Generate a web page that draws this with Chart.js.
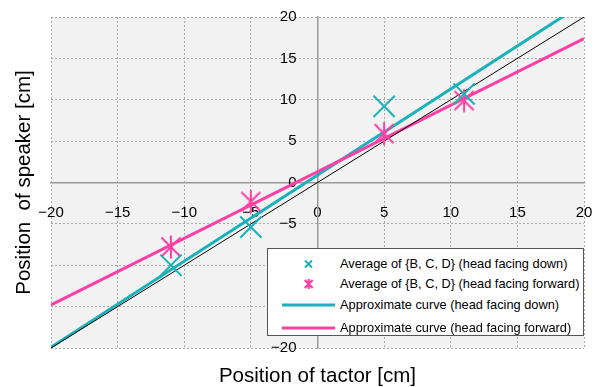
<!DOCTYPE html>
<html><head><meta charset="utf-8">
<script src="https://cdn.jsdelivr.net/npm/chart.js@4/dist/chart.umd.min.js"></script>
<style>
html,body{margin:0;padding:0;background:#fff;}
#wrap{position:relative;width:601px;height:387px;}
canvas{display:block}
#legend{position:absolute;left:267px;top:248px;width:315px;height:86px;background:#fff;border:1px solid #555;font-family:"Liberation Sans",Arial,sans-serif;font-size:12.8px;color:#000;}
.row{position:absolute;left:0;width:315px;height:20px;}
.row span{position:absolute;left:72px;top:0;line-height:20px;white-space:nowrap;}
.row svg{position:absolute;left:0;top:0;}
</style>
</head><body>
<div id="wrap"><canvas id="c" width="601" height="387"></canvas><div id="legend"></div></div>
<script>
// ---- data ----
const xValues = [-11, -5, 5, 11];
const downY = [-10, -5.4, 9.2, 10.7];
const forwardY = [-7.8, -2.3, 5.9, 9.9];
const curveX = [-20, 20];
const downCurveY = [-19.9, 21.7];
const forwardCurveY = [-14.8, 17.4];
const identityY = [-20, 20];
const tickValues = [-20, -15, -10, -5, 0, 5, 10, 15, 20];
const tickLabels = ['−20', '−15', '−10', '−5', '0', '5', '10', '15', '20'];
const seriesNames = [
  'Average of {B, C, D} (head facing down)',
  'Average of {B, C, D} (head facing forward)',
  'Approximate curve (head facing down)',
  'Approximate curve (head facing forward)'
];
const xTitle = 'Position of tactor [cm]';
const yTitle = 'Position  of speaker [cm]';

// ---- styles ----
const CYAN = '#19b1ba';
const PINK = '#ff3fa4';
const FAMILY = '"Liberation Sans", Arial, sans-serif';

function makeStar(color) {
  const c = document.createElement('canvas');
  c.width = 26; c.height = 26;
  const g = c.getContext('2d');
  g.strokeStyle = color; g.lineWidth = 2;
  g.beginPath();
  g.moveTo(13, 1.5); g.lineTo(13, 24.5);
  g.moveTo(3.5, 3.5); g.lineTo(22.5, 22.5);
  g.moveTo(22.5, 3.5); g.lineTo(3.5, 22.5);
  g.stroke();
  return c;
}

const pts = (xs, ys) => xs.map((x, i) => ({x, y: ys[i]}));
const labelFor = v => { const i = tickValues.indexOf(v); return i >= 0 ? tickLabels[i] : ''; };
const zeroPad = s => { s.paddingLeft = s.paddingRight = s.paddingTop = s.paddingBottom = 0; };

const bgPlugin = {
  id: 'plotBg',
  beforeDraw(chart) {
    const {ctx, chartArea: a} = chart;
    ctx.save(); ctx.fillStyle = '#f2f2f2';
    ctx.fillRect(a.left, a.top, a.right - a.left, a.bottom - a.top);
    ctx.restore();
  }
};

const gridCommon = {color: '#a8a8a8', lineWidth: 1, drawTicks: false};
const tickFont = {family: FAMILY, size: 15};
const titleFont = {family: FAMILY, size: 20.5, lineHeight: 1};

new Chart(document.getElementById('c'), {
  type: 'scatter',
  data: {
    datasets: [
      {label: seriesNames[0], data: pts(xValues, downY), pointStyle: 'crossRot', pointRadius: 15, pointHoverRadius: 15, borderColor: CYAN, backgroundColor: CYAN, pointBorderWidth: 2, borderWidth: 2, order: 0},
      {label: seriesNames[1], data: pts(xValues, forwardY), pointStyle: makeStar(PINK), pointRadius: 12, borderColor: PINK, backgroundColor: PINK, order: 0},
      {label: 'y = x', type: 'line', data: pts(curveX, identityY), borderColor: '#000', borderWidth: 1, pointRadius: 0, order: 1},
      {label: seriesNames[3], type: 'line', data: pts(curveX, forwardCurveY), borderColor: PINK, borderWidth: 3, pointRadius: 0, order: 2},
      {label: seriesNames[2], type: 'line', data: pts(curveX, downCurveY), borderColor: CYAN, borderWidth: 3, pointRadius: 0, order: 3}
    ]
  },
  options: {
    responsive: false,
    animation: false,
    events: [],
    layout: {padding: {top: 16, right: 15, left: 0, bottom: 0}},
    plugins: {legend: {display: false}, tooltip: {enabled: false}},
    scales: {
      x: {type: 'linear', position: 'bottom', min: -20, max: 20,
          ticks: {display: false, stepSize: 5}, grid: gridCommon,
          border: {display: false, dash: [2, 2]},
          title: {display: true, text: xTitle, color: '#000', font: titleFont, padding: {top: 0, bottom: 0}},
          afterFit(s) { s.height = 39; zeroPad(s); }},
      y: {type: 'linear', position: 'left', min: -20, max: 20,
          ticks: {display: false, stepSize: 5}, grid: gridCommon,
          border: {display: false, dash: [2, 2]},
          title: {display: true, text: yTitle, color: '#000', font: titleFont, padding: {top: 14.5, bottom: 0}},
          afterFit(s) { s.width = 51; zeroPad(s); }},
      x0: {type: 'linear', axis: 'x', position: 'center', min: -20, max: 20,
          ticks: {stepSize: 5, padding: 21, font: tickFont, color: '#000', autoSkip: false, maxRotation: 0, callback: v => labelFor(v)},
          grid: {display: false, drawTicks: false},
          border: {display: true, color: '#999', width: 1.5},
          afterFit(s) { zeroPad(s); }},
      y0: {type: 'linear', axis: 'y', position: 'center', min: -20, max: 20,
          ticks: {stepSize: 5, padding: 21, font: tickFont, color: '#000', autoSkip: false, callback: v => labelFor(v)},
          grid: {display: false, drawTicks: false},
          border: {display: true, color: '#999', width: 1.5},
          afterFit(s) { zeroPad(s); }}
    }
  },
  plugins: [bgPlugin]
});

// ---- legend (HTML overlay) ----
const legend = document.getElementById('legend');
const rowTops = [5, 25, 46, 69];
const icons = [
  `<svg width="70" height="20"><path d="M37 6.5 L44 13.5 M44 6.5 L37 13.5" stroke="${CYAN}" stroke-width="2"/></svg>`,
  `<svg width="70" height="20"><path d="M40.7 5 L40.7 15 M36.7 6 L44.7 14 M44.7 6 L36.7 14" stroke="${PINK}" stroke-width="2.2"/></svg>`,
  `<svg width="70" height="20"><path d="M14 10 L67 10" stroke="${CYAN}" stroke-width="3"/></svg>`,
  `<svg width="70" height="20"><path d="M14 10 L67 10" stroke="${PINK}" stroke-width="3"/></svg>`
];
seriesNames.forEach((name, i) => {
  const r = document.createElement('div');
  r.className = 'row';
  r.style.top = rowTops[i] + 'px';
  r.innerHTML = icons[i] + '<span></span>';
  r.querySelector('span').textContent = name;
  legend.appendChild(r);
});
</script>
</body></html>
